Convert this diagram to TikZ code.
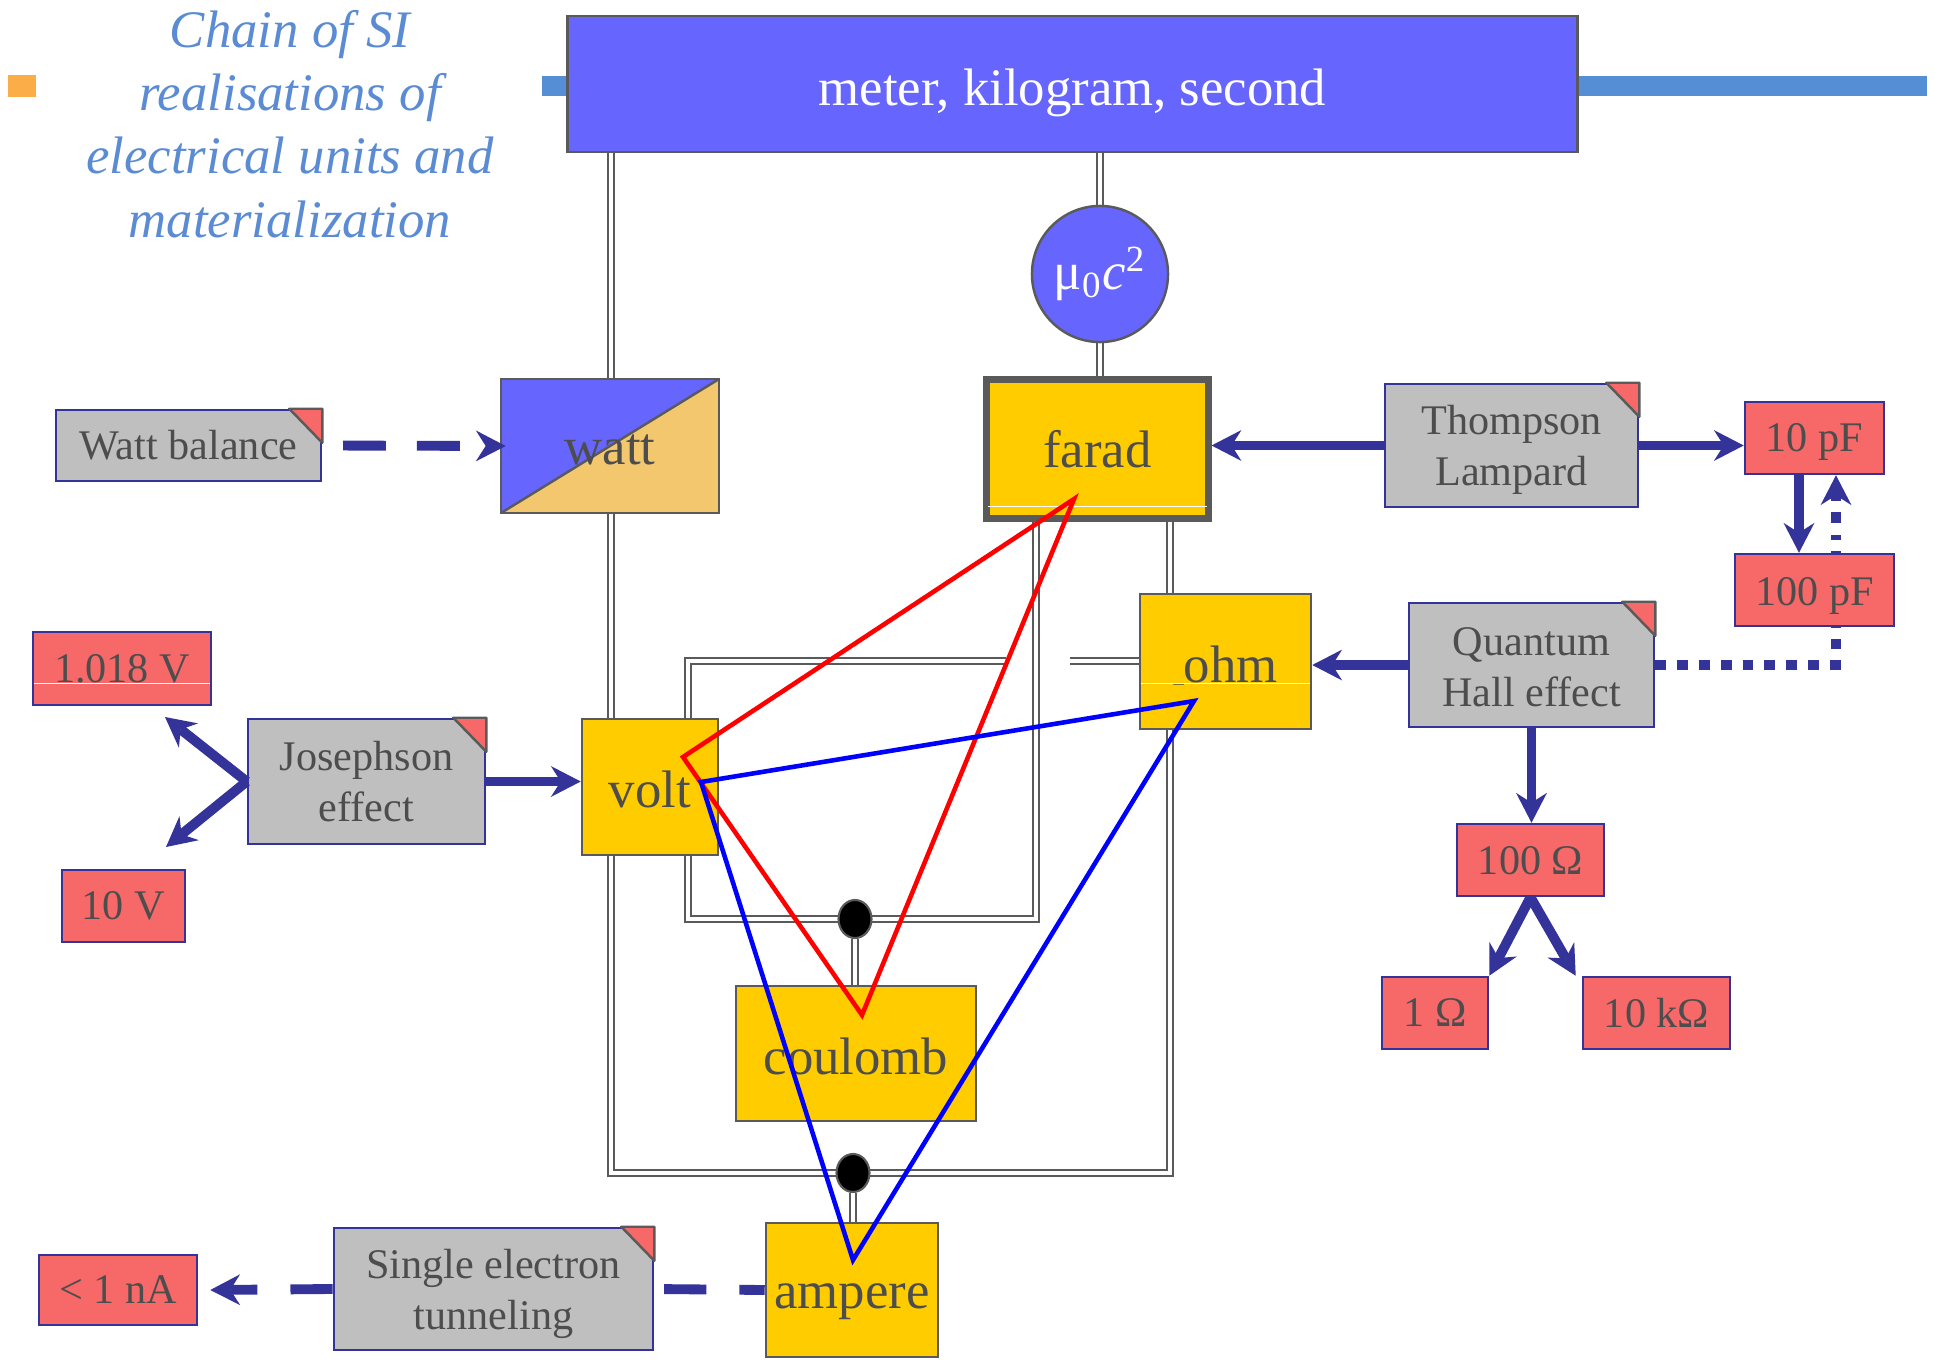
\documentclass[tikz,border=0pt]{standalone}
\usepackage{fontspec}
\setmainfont{Liberation Serif}
\usetikzlibrary{arrows.meta,shapes.geometric}
\pgfdeclarelayer{bg}
\pgfsetlayers{bg,main}

\definecolor{boxblue}{HTML}{6666FF}
\definecolor{unityel}{HTML}{FFCC00}
\definecolor{wattor}{HTML}{F2C76E}
\definecolor{procgray}{HTML}{BFBFBF}
\definecolor{valred}{HTML}{F76868}
\definecolor{arrblue}{HTML}{333399}
\definecolor{pipegray}{HTML}{5A5A5A}
\definecolor{txtgray}{HTML}{4D4D4D}
\definecolor{titleblue}{HTML}{5A8BD3}
\definecolor{barblue}{HTML}{558ED5}
\definecolor{sqor}{HTML}{FBAD47}

\newcommand\bigfs{\fontsize{15}{18}\selectfont}
\newcommand\smallfs{\fontsize{12}{14.5}\selectfont}
\newcommand\foldcorner[1]{\filldraw[foldc] ([xshift=-0.33cm]#1.north east) -- (#1.north east) -- ([yshift=-0.34cm]#1.north east) -- cycle;}

\tikzset{
  unitbox/.style={rectangle, draw=pipegray, line width=0.7pt, fill=unityel, inner sep=0pt},
  procbox/.style={rectangle, draw=arrblue, line width=0.7pt, fill=procgray, inner sep=0pt},
  valbox/.style={rectangle, draw=arrblue, line width=0.7pt, fill=valred, inner sep=0pt},
  biglab/.style={text=txtgray, font=\bigfs, inner sep=0pt},
  smalllab/.style={text=txtgray, font=\smallfs, align=center, inner sep=0pt},
  pipe/.style={draw=pipegray, line width=0.65pt, double=white, double distance=0.95pt},
  tipb/.tip={Stealth[length=8.5pt, width=8.8pt, inset=2.8pt, line width=0pt]},
  arr/.style={draw=arrblue, line width=2.8pt, -tipb},
  dashline/.style={draw=arrblue, line width=2.8pt, dash pattern=on 12pt off 9.4pt},
  dotline/.style={draw=arrblue, line width=2.8pt, dash pattern=on 3.1pt off 3.1pt},
  foldc/.style={fill=valred, draw=pipegray, line width=0.7pt, line join=round},
  dotn/.style={ellipse, fill=black, draw=pipegray, line width=0.6pt, minimum width=0.33cm, minimum height=0.38cm, inner sep=0pt},
  tri/.style={line width=1.3pt, line join=miter},
  titlefs/.style={font=\itshape\fontsize{15}{18}\selectfont, text=titleblue, anchor=base, inner sep=0pt},
}

\begin{document}
\begin{tikzpicture}[x=0.01cm, y=-0.01cm]
\useasboundingbox (0,0) rectangle (1935,1360);

% title
\node[fill=sqor, minimum width=0.28cm, minimum height=0.22cm, inner sep=0pt] (bullet) at (22,86) {};
\node[titlefs] (t1) at (290,47) {Chain of SI};
\node[titlefs] (t2) at (290,110) {realisations of};
\node[titlefs] (t3) at (290,173) {electrical units and};
\node[titlefs] (t4) at (290,237) {materialization};

% top bar and box
\coordinate (barL) at (542,86);
\coordinate (barR) at (1927,86);
\node[rectangle, fill=boxblue, draw=pipegray, line width=0.7pt, minimum width=10.09cm, minimum height=1.36cm, inner sep=0pt] (top) at (1072.5,84) {};
\node[biglab, text=white] (topL) at ([yshift=-0.09cm]top.center) {meter, kilogram, second};
\node[circle, fill=boxblue, draw=pipegray, line width=0.7pt, minimum size=1.36cm, inner sep=0pt, text=white, font=\bigfs] (mu) at (1100,274) {μ\textsubscript{0}\textit{c}\textsuperscript{2}};

% unit boxes
\node[unitbox, fill=wattor, minimum width=2.18cm, minimum height=1.34cm,
  path picture={\fill[boxblue] (path picture bounding box.south west) -- (path picture bounding box.north west) -- (path picture bounding box.north east) -- cycle;
  \draw[pipegray, line width=0.7pt] (path picture bounding box.south west) -- (path picture bounding box.north east);}] (watt) at (610,446) {};
\node[biglab] (wattL) at ([yshift=-0.04cm]watt.center) {watt};
\node[unitbox, line width=2pt, minimum width=2.21cm, minimum height=1.38cm] (farad) at (1097.5,449) {};
\node[biglab] (faradL) at (farad.center) {farad};
\node[unitbox, minimum width=1.71cm, minimum height=1.35cm] (ohm) at (1225.5,661.5) {};
\node[biglab] (ohmL) at ([yshift=-0.04cm]ohm.center) {{\fontsize{6}{6}\selectfont\_}ohm};
\node[unitbox, minimum width=1.36cm, minimum height=1.36cm] (volt) at (650,787) {};
\node[biglab] (voltL) at ([yshift=-0.025cm]volt.center) {volt};
\node[unitbox, minimum width=2.40cm, minimum height=1.35cm] (coulomb) at (856,1053.5) {};
\node[biglab] (coulombL) at ([yshift=-0.025cm]coulomb.center) {coulomb};
\node[unitbox, minimum width=1.72cm, minimum height=1.34cm] (ampere) at (852,1290) {};
\node[biglab] (ampereL) at ([yshift=-0.12cm]ampere.center) {ampere};

\draw[white, line width=0.4pt] ([yshift=0.15cm, xshift=0.05cm]farad.south west) -- ([yshift=0.15cm, xshift=-0.05cm]farad.south east);
\draw[white, line width=0.4pt] ([yshift=0.47cm, xshift=0.02cm]ohm.south west) -- ([yshift=0.47cm, xshift=-0.02cm]ohm.south east);

% process boxes
\node[procbox, minimum width=2.65cm, minimum height=0.71cm] (wb) at (188.5,445.5) {};
\node[smalllab] (wbL) at (wb.center) {Watt balance};
\node[procbox, minimum width=2.53cm, minimum height=1.23cm] (tl) at (1511.5,445.5) {};
\node[smalllab] (tlL) at ([yshift=-0.04cm]tl.center) {Thompson\\Lampard};
\node[procbox, minimum width=2.45cm, minimum height=1.24cm] (qhe) at (1531.5,665) {};
\node[smalllab] (qheL) at ([yshift=-0.025cm]qhe.center) {Quantum\\Hall effect};
\node[procbox, minimum width=2.37cm, minimum height=1.25cm] (jos) at (366.5,781.5) {};
\node[smalllab] (josL) at (jos.center) {Josephson\\effect};
\node[procbox, minimum width=3.19cm, minimum height=1.22cm] (setun) at (493.5,1289) {};
\node[smalllab] (setunL) at ([yshift=-0.05cm]setun.center) {Single electron\\tunneling};
\foldcorner{wb}
\foldcorner{tl}
\foldcorner{qhe}
\foldcorner{jos}
\foldcorner{setun}

% value boxes
\node[valbox, minimum width=1.39cm, minimum height=0.72cm] (pf10) at (1814.5,438) {};
\node[smalllab] (pf10L) at ([yshift=-0.04cm]pf10.center) {10 pF};
\begin{pgfonlayer}{bg}
\coordinate (dotc) at (1836,666);
\draw[dotline] (qhe.east) -- (qhe.east -| dotc) -- ([yshift=-0.6cm]dotc |- pf10.south);
\end{pgfonlayer}
\node[valbox, minimum width=1.59cm, minimum height=0.72cm] (pf100) at (1814.5,590) {};
\node[smalllab] (pf100L) at ([yshift=-0.06cm]pf100.center) {100 pF};
\draw[dotline, -tipb] ([yshift=0.3cm]dotc |- pf100.north) -- (dotc |- pf10.south);
\node[valbox, minimum width=1.47cm, minimum height=0.72cm] (r100) at (1530.5,860) {};
\node[smalllab] (r100L) at ([yshift=-0.01cm]r100.center) {100 Ω};
\node[valbox, minimum width=1.06cm, minimum height=0.72cm] (r1) at (1435,1013) {};
\node[smalllab] (r1L) at (r1.center) {1 Ω};
\node[valbox, minimum width=1.47cm, minimum height=0.72cm] (r10k) at (1656.5,1013) {};
\node[smalllab] (r10kL) at (r10k.center) {10 kΩ};
\node[valbox, minimum width=1.78cm, minimum height=0.73cm] (v1018) at (122,668.5) {};
\node[smalllab] (v1018L) at (v1018.center) {1.018 V};
\node[valbox, minimum width=1.23cm, minimum height=0.72cm] (v10) at (123.5,906) {};
\node[smalllab] (v10L) at (v10.center) {10 V};
\node[valbox, minimum width=1.58cm, minimum height=0.70cm] (na) at (118,1290) {};
\node[smalllab] (naL) at (na.center) {< 1 nA};
\draw[white, line width=0.4pt] ([yshift=0.23cm, xshift=0.02cm]v1018.south west) -- ([yshift=0.23cm, xshift=-0.02cm]v1018.south east);

% dots
\node[dotn] (dotA) at (855,919) {};
\node[dotn] (dotB) at (853,1173) {};

% pipes and bar (background)
\begin{pgfonlayer}{bg}
\draw[barblue, line width=5.7pt] (barL) -- (barR);
\coordinate (lb) at (611,1173);
\coordinate (rb) at (1170,1173);
\coordinate (ia) at (688,661);
\coordinate (ib) at (1006,661);
\coordinate (ic) at (1036,919);
\coordinate (ostub) at (1070,661);
\draw[pipe] (top.south -| lb) -- (lb) -- (rb) -- (farad.south -| rb);
\draw[pipe] (farad.south -| ic) -- (ic) -- (ic -| ia) -- (ia) -- (ib);
\draw[pipe] (ostub) -- (ostub -| ohm.west);
\draw[pipe] (top.south -| mu) -- (mu.north);
\draw[pipe] (mu.south) -- (mu.south |- farad.north);
\draw[pipe] (dotA.south) -- (dotA.south |- coulomb.north);
\draw[pipe] (dotB.south) -- (dotB.south |- ampere.north);
\end{pgfonlayer}

% arrows
\draw[arr] (tl.west) -- (tl.west -| farad.east);
\draw[arr] (tl.east) -- (tl.east -| pf10.west);
\draw[arr] ([xshift=-0.155cm]pf10.south) -- ([xshift=-0.155cm]pf10.south |- pf100.north);
\draw[arr] (qhe.west) -- (qhe.west -| ohm.east);
\draw[arr] (qhe.south) -- (qhe.south |- r100.north);
\draw[arr] (r100.south) -- (r1.north east);
\draw[arr] (r100.south) -- ([xshift=-0.06cm]r10k.north west);
\draw[arr] (jos.east) -- (jos.east -| volt.west);
\coordinate (jv1) at (165,717);
\coordinate (jv2) at (166,847);
\draw[arr] (jos.west) -- (jv1);
\draw[arr] (jos.west) -- (jv2);
\draw[dashline, dash pattern=on 12.2pt off 8.8pt, dash phase=15.1pt, -tipb] (wb.east) -- ([xshift=0.06cm]watt.west);
\draw[dashline, dash phase=4.8pt] (ampere.west) -- (setun.east);
\draw[dashline, -tipb] (setun.west) -- ([xshift=0.12cm]na.east);

% triangles
\coordinate (ra) at (683,757);
\coordinate (rbv) at (1074,499);
\coordinate (rc) at (862,1015);
\draw[red, tri] (ra) -- (rbv) -- (rc) -- cycle;
\coordinate (ba) at (701,782);
\coordinate (bbv) at (1194,701);
\coordinate (bc) at (853,1260);
\draw[blue, tri] (ba) -- (bbv) -- (bc) -- cycle;
\end{tikzpicture}
\end{document}
